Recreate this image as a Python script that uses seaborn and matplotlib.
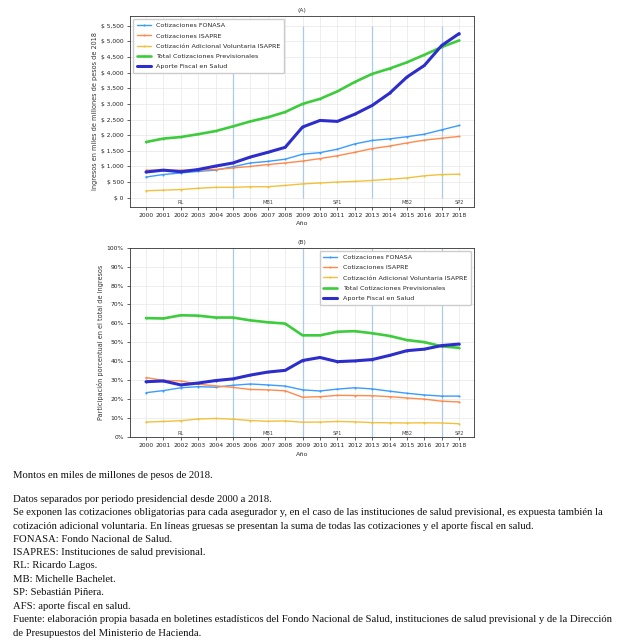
import matplotlib
matplotlib.use("Agg")
import matplotlib.pyplot as plt
import matplotlib.ticker as mticker
import seaborn as sns

sns.set_theme(style="ticks")
plt.rcParams["font.family"] = ["DejaVu Sans"]

years = list(range(2000, 2019))

# (A) montos en miles de millones de pesos de 2018
fonasa = [660, 740, 790, 840, 880, 990, 1110, 1160, 1230, 1390,
          1440, 1550, 1720, 1830, 1880, 1950, 2030, 2170, 2310]
isapre = [880, 880, 880, 880, 900, 950, 1000, 1060, 1110, 1170,
          1250, 1340, 1450, 1570, 1650, 1750, 1840, 1900, 1960]
adicional = [220, 240, 260, 300, 330, 330, 350, 350, 390, 440,
             470, 500, 520, 550, 590, 630, 700, 740, 750]
total_cot = [1780, 1890, 1940, 2030, 2130, 2280, 2440, 2570, 2740, 3000,
             3160, 3400, 3700, 3960, 4130, 4330, 4570, 4820, 5030]
aporte = [820, 880, 830, 900, 1010, 1110, 1300, 1450, 1610, 2260,
          2470, 2440, 2670, 2950, 3340, 3860, 4230, 4870, 5250]

# (B) participacion porcentual en el total de ingresos
fonasa_pct = [23.4, 24.5, 26.0, 26.6, 26.3, 27.3, 28.0, 27.5, 26.9, 24.9,
              24.3, 25.3, 26.0, 25.4, 24.2, 23.1, 22.2, 21.6, 21.6]
isapre_pct = [31.4, 29.9, 29.6, 27.9, 27.0, 26.2, 25.1, 24.9, 24.4, 21.0,
              21.3, 22.0, 21.9, 21.8, 21.3, 20.6, 20.0, 18.9, 18.5]
adicional_pct = [7.9, 8.2, 8.6, 9.5, 9.8, 9.4, 8.7, 8.3, 8.5, 7.8,
                 7.9, 8.2, 8.0, 7.6, 7.5, 7.4, 7.5, 7.4, 7.0]
total_pct = [62.8, 62.6, 64.3, 64.1, 63.1, 63.1, 61.6, 60.6, 59.9, 53.7,
             53.7, 55.6, 55.9, 54.8, 53.4, 51.2, 50.1, 47.9, 47.1]
aporte_pct = [29.2, 29.6, 27.5, 28.5, 29.8, 30.7, 32.7, 34.3, 35.2, 40.4,
              42.0, 39.8, 40.2, 40.9, 43.1, 45.6, 46.4, 48.3, 49.1]

labels = ["Cotizaciones FONASA", "Cotizaciones ISAPRE",
          "Cotización Adicional Voluntaria ISAPRE",
          "Total Cotizaciones Previsionales", "Aporte Fiscal en Salud"]

period_starts = [2005, 2009, 2013, 2017]
period_names = ["RL", "MB1", "SP1", "MB2", "SP2"]
period_label_x = [2002, 2007, 2011, 2015, 2018]

notes = [
    "Montos en miles de millones de pesos de 2018.",
    "Datos separados por periodo presidencial desde 2000 a 2018.",
    "Se exponen las cotizaciones obligatorias para cada asegurador y, en el caso de las instituciones de salud previsional, es expuesta también la",
    "cotización adicional voluntaria. En líneas gruesas se presentan la suma de todas las cotizaciones y el aporte fiscal en salud.",
    "FONASA: Fondo Nacional de Salud.",
    "ISAPRES: Instituciones de salud previsional.",
    "RL: Ricardo Lagos.",
    "MB: Michelle Bachelet.",
    "SP: Sebastián Piñera.",
    "AFS: aporte fiscal en salud.",
    "Fuente: elaboración propia basada en boletines estadísticos del Fondo Nacional de Salud, instituciones de salud previsional y de la Dirección",
    "de Presupuestos del Ministerio de Hacienda.",
]

styles = [
    dict(color="#3a9cff", linewidth=1.0),
    dict(color="#ff8a4c", linewidth=1.0),
    dict(color="#f2c13c", linewidth=1.0),
    dict(color="#3ccc3c", linewidth=1.9),
    dict(color="#2d2dcc", linewidth=2.2),
]

fig = plt.figure(figsize=(6.39, 6.40), dpi=100)
ax_a = fig.add_axes([0.2034, 0.677, 0.5383, 0.2984])
ax_b = fig.add_axes([0.2034, 0.3172, 0.5383, 0.2958])


def draw(ax, series, ymax):
    ax.vlines(period_starts, 0, ymax, color="#a3c9e8", linewidth=0.9,
              alpha=0.9, zorder=1)
    for values, label, st in zip(series, labels, styles):
        sns.lineplot(x=years, y=values, ax=ax, label=label, marker=".",
                     markersize=3, markeredgewidth=0, zorder=3, **st)
    ax.set_xticks(years)
    ax.set_xlim(1999.08, 2018.85)
    ax.grid(True, color="#e8e8e8", linewidth=0.5)
    ax.set_axisbelow(True)
    for name, xpos in zip(period_names, period_label_x):
        ax.text(xpos, 0.02, name, transform=ax.get_xaxis_transform(),
                ha="center", va="center", fontsize=3.6, color="#444444")
    ax.tick_params(axis="both", labelsize=4.3, length=2, width=0.5,
                   pad=2.5, colors="#222222")
    for sp in ax.spines.values():
        sp.set_color("#333333")
        sp.set_linewidth(0.6)
    ax.set_xlabel("Año", fontsize=4.6, labelpad=2.5, color="#333333")


def legend(ax, loc):
    ax.legend(loc=loc, fontsize=4.6, frameon=True, framealpha=1,
              edgecolor="#cccccc", borderpad=0.6, labelspacing=0.75,
              handlelength=2.2)


draw(ax_a, [fonasa, isapre, adicional, total_cot, aporte], 5500)
ax_a.set_ylim(-290, 5820)
ax_a.set_yticks(range(0, 5501, 500))
ax_a.yaxis.set_major_formatter(mticker.FuncFormatter(lambda v, p: f"$ {v:,.0f}"))
ax_a.set_ylabel("Ingresos en miles de millones de pesos de 2018",
                fontsize=4.7, labelpad=2, color="#333333")
ax_a.set_title("(A)", fontsize=4.3, pad=3, color="#333333")
legend(ax_a, "upper left")

draw(ax_b, [fonasa_pct, isapre_pct, adicional_pct, total_pct, aporte_pct], 100)
ax_b.set_ylim(0, 100)
ax_b.set_yticks(range(0, 101, 10))
ax_b.yaxis.set_major_formatter(mticker.FuncFormatter(lambda v, p: f"{v:.0f}%"))
ax_b.set_ylabel("Participación porcentual en el total de ingresos",
                fontsize=4.7, labelpad=2, color="#333333")
ax_b.set_title("(B)", fontsize=4.3, pad=3, color="#333333")
legend(ax_b, "upper right")

line_y = [475, 499] + [499 + 13.4 * i for i in range(1, 11)]
for txt, y in zip(notes, line_y):
    fig.text(13 / 639, 1 - y / 640, txt, ha="left", va="center",
             fontsize=7.7, family=["Liberation Serif", "DejaVu Serif"],
             color="#111111")

fig.savefig("out.png", dpi=100)
